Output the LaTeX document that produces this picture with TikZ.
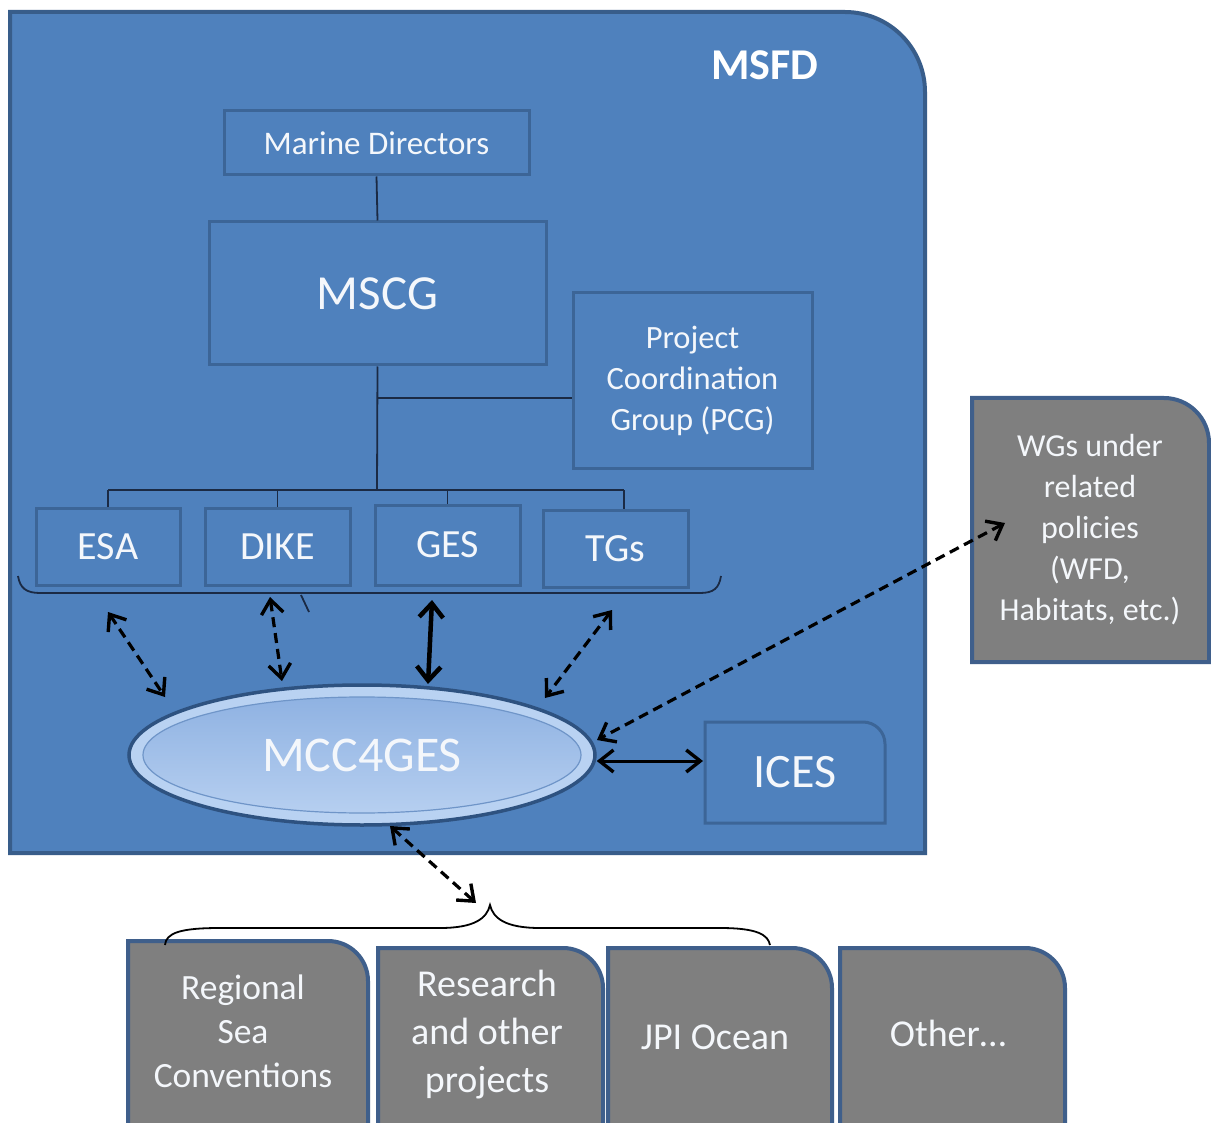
\documentclass[tikz,border=0pt]{standalone}
\usepackage{fontspec}
\setmainfont{Carlito}
\usetikzlibrary{arrows.meta,shapes.geometric,calc}
\definecolor{msfd}{HTML}{4F81BD}
\definecolor{msfdb}{HTML}{385D8A}
\definecolor{innb}{HTML}{3C6597}
\definecolor{conn}{HTML}{1B2A44}
\definecolor{grayf}{HTML}{7F7F7F}
\definecolor{grayb}{HTML}{3F5F8B}
\definecolor{txt}{HTML}{F4F7FB}
\definecolor{ellout}{HTML}{B9D2F2}
\definecolor{ellb}{HTML}{2E5280}
\definecolor{elltop}{HTML}{8FB2E2}
\definecolor{ellbot}{HTML}{B6CFF0}
\definecolor{ellin}{HTML}{6F95C8}
\newcommand\myfs[2]{\fontsize{#1}{#2}\selectfont}
% #1 style, #2 x1, #3 y1 (top), #4 x2, #5 y2 (bottom), #6 radius
\newcommand\mytrbox[6]{\filldraw[#1] (#2,-#5) -- (#2,-#3) -- (#4-#6,-#3) arc[start angle=90,end angle=0,radius=#6pt] -- (#4,-#5) -- cycle;}
\begin{document}
\begin{tikzpicture}[x=1pt,y=1pt,
  inbox/.style={draw=innb, line width=3pt, fill=msfd, text=txt, inner sep=0pt, align=center},
  txtnode/.style={text=txt, inner sep=0pt, align=center},
  conline/.style={draw=conn, line width=1.8pt},
  tipb/.tip={Straight Barb[length=14pt,width=22pt,line width=3.4pt]},
  tipc/.tip={Straight Barb[length=14pt,width=24pt,line width=4.5pt]},
  dasharrow/.style={draw=black, dash pattern=on 10pt off 6pt, line width=3.2pt, tipb-tipb},
  solarrow/.style={draw=black, line width=3pt, tipb-tipb},
  graybox/.style={fill=grayf, draw=grayb, line width=4pt}
]
\useasboundingbox (0,0) rectangle (1211,-1123);
\fill[white] (0,0) rectangle (1211,-1123);

% MSFD frame
\mytrbox{fill=msfd, draw=msfdb, line width=4pt}{10}{12}{925}{853}{80}
\node[txtnode, text=white, font=\bfseries\myfs{44}{52}] (msfdt) at (765,-65) {MSFD};

% hierarchy boxes
\node[inbox, minimum width=305pt, minimum height=64pt, font=\myfs{33}{41}] (md) at (376.5,-143) {Marine Directors};
\node[inbox, minimum width=337pt, minimum height=143pt, font=\myfs{49}{56}] (mscg) at (377.5,-293.5) {MSCG};
\node[inbox, minimum width=239pt, minimum height=175pt, font=\myfs{32.5}{41}] (pcg) at (692.5,-380.5) {Project\\Coordination\\Group (PCG)};
\node[inbox, minimum width=144pt, minimum height=77pt, font=\myfs{40}{46}] (esa) at (108,-546.5) {ESA};
\node[inbox, minimum width=145pt, minimum height=77pt, font=\myfs{40}{46}] (dike) at (277.5,-546.5) {DIKE};
\node[inbox, minimum width=145pt, minimum height=80pt, font=\myfs{40}{46}] (ges) at (447.5,-545) {GES};
\node[inbox, minimum width=145pt, minimum height=77pt, font=\myfs{40}{46}] (tgs) at (615.5,-548.5) {TGs};

% tree connectors
\coordinate (bus) at (377,-490);
\coordinate (pj) at (377,-398);
\coordinate (tgsdrop) at ($(tgs.north)+(8.5,0)$);
\draw[conline] (md.south) -- (mscg.north);
\draw[conline] (mscg.south) -- (bus);
\draw[conline] (pj) -- (pj -| pcg.west);
\draw[conline] (esa.north |- bus) -- (tgsdrop |- bus);
\foreach \n in {esa,dike,ges} \draw[conline] (\n.north |- bus) -- (\n.north);
\draw[conline] (tgsdrop |- bus) -- (tgsdrop);

% brace under the working groups
\draw[conline] (18,-576) .. controls (20,-588) and (26,-593) .. (40,-593) -- (700,-593) .. controls (714,-593) and (719,-588) .. (721,-576);
\draw[conline] (301,-595) -- (309,-612);

% MCC4GES ellipse
\fill[ellout] (362,-755) ellipse [x radius=233, y radius=70];
\draw[top color=elltop, bottom color=ellbot, draw=ellin, line width=1.2pt] (362,-755) ellipse [x radius=219, y radius=58];
\node[ellipse, draw=ellb, line width=3.5pt, minimum width=466pt, minimum height=140pt, inner sep=0pt, text=txt, font=\myfs{50}{58}] (mcc) at (362,-755) {MCC4GES};

% ICES
\mytrbox{fill=msfd, draw=innb, line width=3pt}{705}{722}{885}{823}{22}
\node[txtnode, minimum width=180pt, minimum height=101pt, font=\myfs{48}{56}] (ices) at (795,-772.5) {ICES};

% WGs under related policies
\mytrbox{graybox}{972}{398}{1209}{662}{45}
\node[txtnode, minimum width=237pt, minimum height=264pt, font=\myfs{32}{41}] (wgs) at (1090,-530) {WGs under\\related\\policies\\(WFD,\\Habitats, etc.)};

% bottom partner boxes
\mytrbox{graybox}{128}{941}{368}{1135}{40}
\mytrbox{graybox}{378}{948}{603}{1135}{40}
\mytrbox{graybox}{608}{948}{832}{1135}{40}
\mytrbox{graybox}{840}{948}{1065}{1135}{40}
\node[txtnode, font=\myfs{35.5}{44}] (rsc) at (243,-1031) {Regional\\Sea\\Conventions};
\node[txtnode, font=\myfs{38}{48}] (res) at (487,-1035) {Research\\and other\\projects};
\node[txtnode, font=\myfs{38}{48}] (jpi) at (715,-1037) {JPI Ocean};
\node[txtnode, font=\myfs{38}{48}] (oth) at (948,-1033) {Other…};

% brace over the bottom boxes
\coordinate (btip) at (490,-905);
\draw[black, line width=1.8pt] (165,-945) .. controls (166,-933) and (180,-928) .. (220,-928) -- (440,-928) .. controls (475,-928) and (487,-918) .. (btip) .. controls (493,-918) and (505,-928) .. (540,-928) -- (720,-928) .. controls (758,-928) and (768,-935) .. (770,-945);

% arrows
\coordinate (a1s) at (108,-612); \coordinate (a1e) at (165,-697);
\coordinate (a2s) at (270,-597); \coordinate (a2e) at (282,-681);
\coordinate (a3s) at (432,-600); \coordinate (a3e) at (428,-684);
\coordinate (a4s) at (612,-610); \coordinate (a4e) at (545,-698);
\coordinate (a5s) at (1005,-523); \coordinate (a5e) at (597,-740);
\coordinate (a6e) at (703,-761);
\coordinate (a7s) at (390,-826); \coordinate (a7e) at (476,-903);
\draw[dasharrow] (a1s) -- (a1e);
\draw[dasharrow] (a2s) -- (a2e);
\draw[solarrow, line width=4.5pt, tipc-tipc] (a3s) -- (a3e);
\draw[dasharrow] (a4s) -- (a4e);
\draw[dasharrow] (a5s) -- (a5e);
\draw[solarrow] (mcc.east |- a6e) -- (a6e);
\draw[dasharrow] (a7s) -- (a7e);
\end{tikzpicture}
\end{document}
